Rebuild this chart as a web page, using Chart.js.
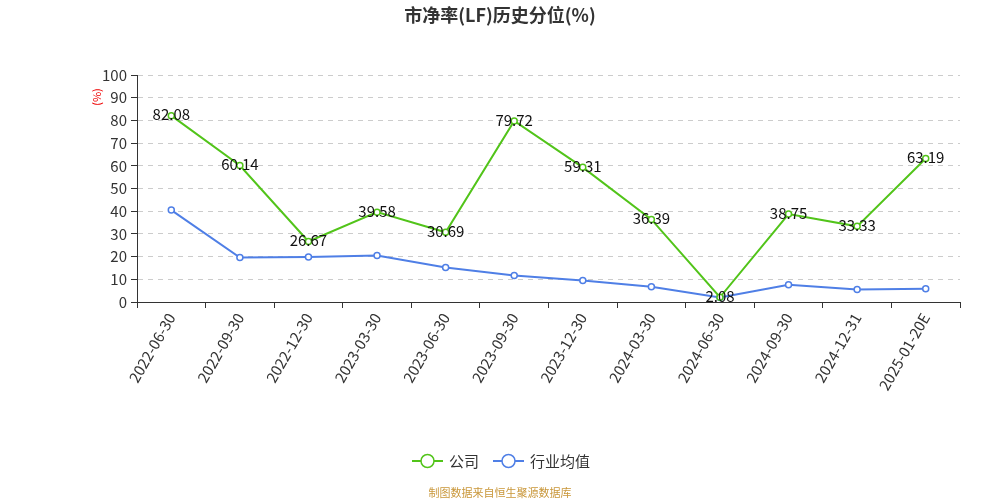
<!DOCTYPE html>
<html><head><meta charset="utf-8">
<script src="https://cdn.jsdelivr.net/npm/chart.js@4"></script>
<style>html,body{margin:0;padding:0;background:#fff}#wrap{width:1000px;height:500px}</style>
</head><body><div id="wrap"><canvas id="c" width="1000" height="500"></canvas></div>
<script>
const categories = ['2022-06-30','2022-09-30','2022-12-30','2023-03-30','2023-06-30','2023-09-30','2023-12-30','2024-03-30','2024-06-30','2024-09-30','2024-12-31','2025-01-20E'];
const companyValues = [82.08,60.14,26.67,39.58,30.69,79.72,59.31,36.39,2.08,38.75,33.33,63.19];
const industryValues = [40.5,19.6,19.8,20.5,15.2,11.7,9.5,6.7,2.0,7.6,5.5,5.8];
const yTicks = [0,10,20,30,40,50,60,70,80,90,100];
const seriesNames = ['公司','行业均值'];
const titleText = '市净率(LF)历史分位(%)';
const unitText = '(%)';
const sourceText = '制图数据来自恒生聚源数据库';

const GREEN = '#52c41a', BLUE = '#4f7fe6';
const FONT = '"Noto Sans CJK SC","Noto Sans",sans-serif';

const deco = {
  id:'deco',
  afterDatasetsDraw(chart){
    const ctx = chart.ctx;
    const meta = chart.getDatasetMeta(0);
    ctx.save();
    ctx.font = '15px ' + FONT;
    ctx.fillStyle = '#111';
    ctx.textAlign = 'center';
    ctx.textBaseline = 'middle';
    meta.data.forEach((p,i)=>{ ctx.fillText(companyValues[i].toFixed(2), p.x, p.y-1); });
    ctx.restore();
  },
  afterDraw(chart){
    const ctx = chart.ctx;
    ctx.save();
    ctx.font = 'bold 18px ' + FONT;
    ctx.fillStyle = '#333';
    ctx.textAlign = 'center'; ctx.textBaseline = 'middle';
    ctx.fillText(titleText, 500, 15);
    ctx.save();
    ctx.translate(97, 97);
    ctx.rotate(-Math.PI/2);
    ctx.font = '11px ' + FONT;
    ctx.fillStyle = '#e00';
    ctx.fillText(unitText, 0, 0);
    ctx.restore();
    const items = [{x:412,c:GREEN,t:seriesNames[0]},{x:493,c:BLUE,t:seriesNames[1]}];
    items.forEach(it=>{
      ctx.strokeStyle = it.c; ctx.lineWidth = 2;
      ctx.beginPath(); ctx.moveTo(it.x,461); ctx.lineTo(it.x+31,461); ctx.stroke();
      ctx.beginPath(); ctx.arc(it.x+15.5,461,6.5,0,Math.PI*2);
      ctx.fillStyle='#fff'; ctx.fill(); ctx.lineWidth=1.5; ctx.stroke();
      ctx.fillStyle='#333'; ctx.font='15px '+FONT; ctx.textAlign='left';
      ctx.fillText(it.t, it.x+37, 461);
    });
    ctx.font = '11px ' + FONT;
    ctx.fillStyle = '#c9973a';
    ctx.textAlign = 'center';
    ctx.fillText(sourceText, 500, 493);
    ctx.restore();
  }
};

new Chart(document.getElementById('c'), {
  type:'line',
  data:{
    labels: categories,
    datasets:[
      {label:seriesNames[0], data:companyValues, borderColor:GREEN, backgroundColor:'#fff', borderWidth:2,
       pointRadius:3, pointBorderWidth:1.5, pointBackgroundColor:'#fff', pointBorderColor:GREEN, tension:0},
      {label:seriesNames[1], data:industryValues, borderColor:BLUE, backgroundColor:'#fff', borderWidth:2,
       pointRadius:3, pointBorderWidth:1.5, pointBackgroundColor:'#fff', pointBorderColor:BLUE, tension:0}
    ]
  },
  options:{
    responsive:false, animation:false,
    layout:{padding:{left:0,right:40,top:75,bottom:98}},
    plugins:{legend:{display:false}, title:{display:false}, tooltip:{enabled:false}},
    scales:{
      x:{
        offset:true,
        grid:{display:true, drawOnChartArea:false, drawTicks:true, tickLength:6, offset:true, color:'#333'},
        border:{display:true, color:'#333', width:1},
        ticks:{color:'#333', font:{size:15, family:FONT}, maxRotation:60, minRotation:60, autoSkip:false, padding:2},
        afterFit(s){ s.height = 100; }
      },
      y:{
        min:0, max:100,
        afterBuildTicks(s){ s.ticks = yTicks.map(v=>({value:v})); },
        grid:{color:'#ccc', drawTicks:true, tickLength:6, tickColor:'#333', tickBorderDash:[]},
        border:{display:true, color:'#333', width:1, dash:[5,5]},
        ticks:{color:'#333', font:{size:15, family:FONT}, padding:4},
        afterFit(s){ s.width = 137; }
      }
    }
  },
  plugins:[deco]
});
</script>
</body></html>
